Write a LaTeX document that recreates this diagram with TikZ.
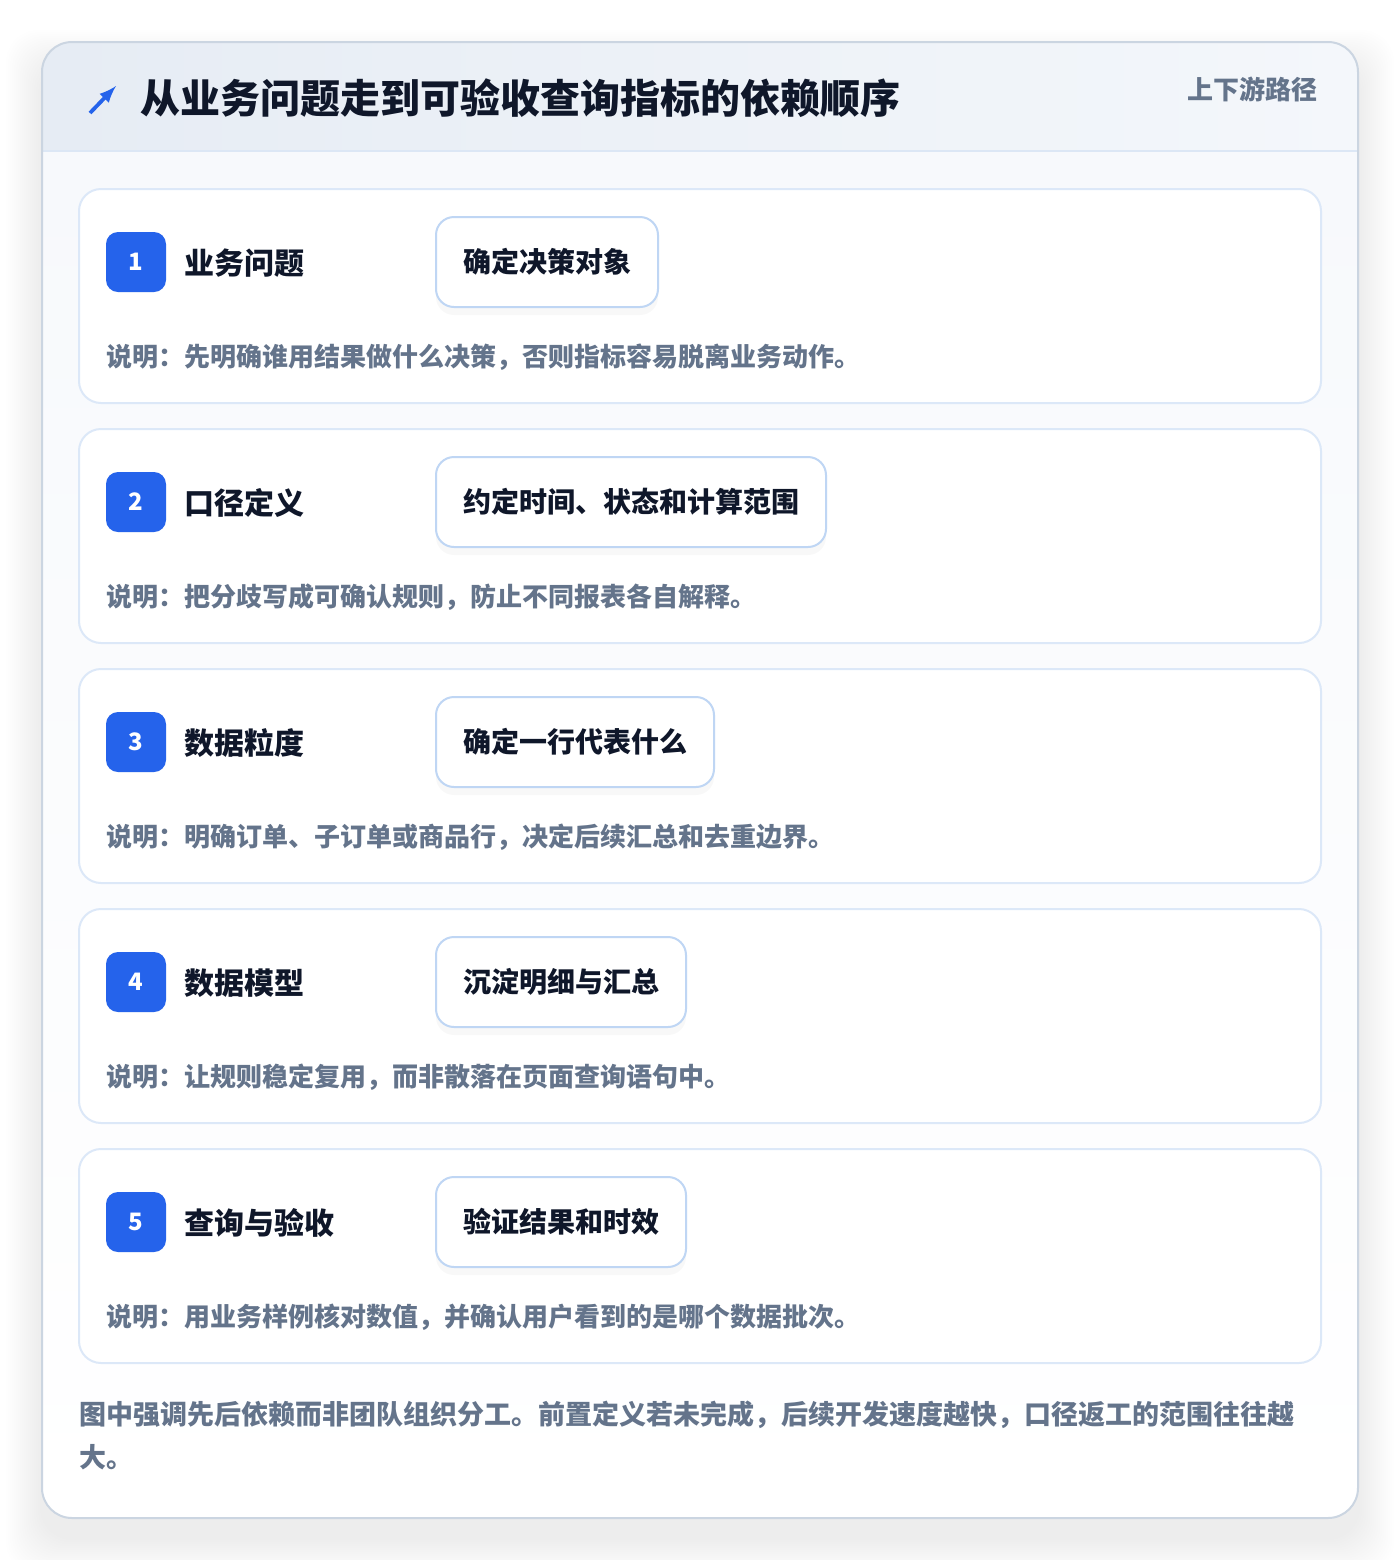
\documentclass[tikz,border=0pt]{standalone}
\usepackage{fontspec}
\setmainfont{Noto Sans CJK SC}
\usetikzlibrary{arrows,shadows}

\definecolor{accent}{HTML}{2563EB}
\definecolor{ink}{HTML}{0F172A}
\definecolor{muted}{HTML}{64748B}
\definecolor{outline}{HTML}{CBD5E1}
\definecolor{headL}{HTML}{E6ECF4}
\definecolor{headR}{HTML}{F4F7FB}
\definecolor{headline}{HTML}{DCE7F5}
\definecolor{bodytop}{HTML}{F7F9FC}
\definecolor{cardline}{HTML}{DCE8F8}
\definecolor{pillline}{HTML}{BFD6F4}

\newcommand{\fsz}[1]{\bfseries\fontsize{#1}{#1}\selectfont}

\begin{document}
\begin{tikzpicture}[x=0.5pt,y=-0.5pt,
    txt/.style={inner sep=0pt,anchor=west},
    badge/.style={fill=accent,rounded corners=6pt,minimum size=30pt,inner sep=0pt,text=white,font=\fsz{12}},
    pill/.style={draw=pillline,line width=1pt,fill=white,rounded corners=9pt,anchor=west,
                 inner xsep=13.5pt,minimum height=45pt,text=ink,font=\fsz{14},
                 drop shadow={opacity=0.05,shadow xshift=0pt,shadow yshift=-4pt}}]
\useasboundingbox (0,0) rectangle (1400,1560);
\fill[white] (0,0) rectangle (1400,1560);
% soft shadow round the panel
\foreach \s in {2,4,...,36}
  \fill[black,opacity=0.005,rounded corners=16pt] (42-\s,66-\s) rectangle (1358+\s,1538+\s);
% panel
\fill[white,rounded corners=15pt] (42,42) rectangle (1358,1518);
\begin{scope}
  \clip[rounded corners=15pt] (42,42) rectangle (1358,1518);
  \shade[left color=headL,right color=headR] (42,42) rectangle (1358,151);
  \shade[top color=bodytop,bottom color=white] (42,151) rectangle (1358,1518);
\end{scope}
\draw[headline,line width=1pt] (42,151) -- (1358,151);
\draw[outline,line width=1pt,rounded corners=15pt] (42,42) rectangle (1358,1518);

% header
\coordinate (arrowtail) at (90,113);
\coordinate (arrowtip) at (116,86);
\draw[accent,line width=1.9pt,-latex] (arrowtail) -- (arrowtip);
\node[txt,text=ink,font=\fsz{20}] (title) at (140,98) {从业务问题走到可验收查询指标的依赖顺序};
\node[inner sep=0pt,anchor=east,text=muted,font=\fsz{13}] (tag) at (1318,89) {上下游路径};

% steps
\foreach \i/\name/\task/\note in {
    1/业务问题/确定决策对象/{说明：先明确谁用结果做什么决策，否则指标容易脱离业务动作。},
    2/口径定义/约定时间、状态和计算范围/{说明：把分歧写成可确认规则，防止不同报表各自解释。},
    3/数据粒度/确定一行代表什么/{说明：明确订单、子订单或商品行，决定后续汇总和去重边界。},
    4/数据模型/沉淀明细与汇总/{说明：让规则稳定复用，而非散落在页面查询语句中。},
    5/查询与验收/验证结果和时效/{说明：用业务样例核对数值，并确认用户看到的是哪个数据批次。}} {
  \pgfmathsetmacro\top{189+(\i-1)*240}
  \draw[cardline,line width=1pt,fill=white,rounded corners=11pt] (79,\top) rectangle (1321,\top+214);
  \node[badge] (badge\i) at (136,\top+73) {\i};
  \node[txt,text=ink,font=\fsz{15}] (step\i) at (184,\top+74) {\name};
  \node[pill] (task\i) at (435,\top+73) {\task};
  \node[txt,text=muted,font=\fsz{13}] (note\i) at (106,\top+168) {\note};
}

% closing remark
\node[txt,text=muted,font=\fsz{13.5}] (foot1) at (79,1415) {图中强调先后依赖而非团队组织分工。前置定义若未完成，后续开发速度越快，口径返工的范围往往越};
\node[txt,text=muted,font=\fsz{13.5}] (foot2) at (79,1457) {大。};
\end{tikzpicture}
\end{document}
